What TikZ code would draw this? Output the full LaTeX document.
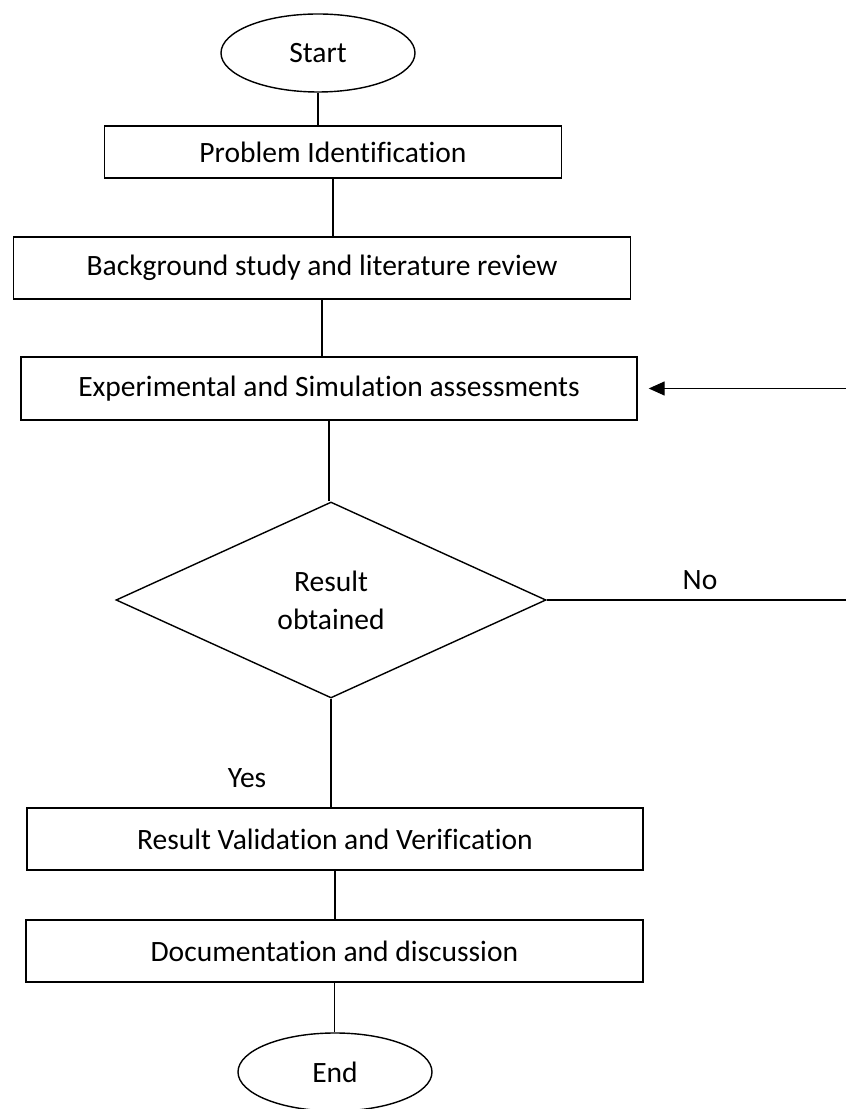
\documentclass[tikz,border=0pt]{standalone}
\usepackage{fontspec}
\setmainfont{Carlito}[Ligatures=NoCommon]
\usetikzlibrary{shapes.geometric,arrows.meta}
\begin{document}
\begin{tikzpicture}[
		line width=1pt,
		box/.style={draw, rectangle, minimum width=15.4cm, minimum height=1.55cm, font=\fontsize{21}{25}\selectfont},
		term/.style={draw, ellipse, minimum width=4.85cm, minimum height=1.95cm, font=\fontsize{21}{25}\selectfont},
		decision/.style={draw, diamond, minimum width=10.75cm, minimum height=4.9cm, inner sep=0pt, align=center, font=\fontsize{21}{27}\selectfont},
		note/.style={font=\fontsize{21}{25}\selectfont}]
		
		\clip (0,0) rectangle (21.15,27.725);
		
		\node[term] (start) at (7.95,26.4) {Start};
		\node[box, minimum width=11.425cm, minimum height=1.3cm] (prob) at (8.325,23.925) {Problem Identification};
		\node[box, minimum width=15.425cm] (back) at (8.05,21.025) {Background study and literature review};
		\node[box, minimum height=1.575cm] (exper) at (8.225,18.0125) {Experimental and Simulation assessments};
		\node[decision] (result) at (8.275,12.725) {Result\\obtained};
		\node[box] (valid) at (8.375,6.75) {Result Validation and Verification};
		\node[box, minimum width=15.425cm] (docu) at (8.36,3.95) {Documentation and discussion};
		\node[term] (end) at (8.375,0.925) {End};
		
		\node[note] (yes) at (6.175,8.275) {Yes};
		\node[note] (no) at (17.5,13.225) {No};
		\coordinate (loop) at (21.5,12.725);
		
		\draw (start.south) -- (start.south |- prob.north);
		\draw (prob.south) -- (prob.south |- back.north);
		\draw (back.south) -- (back.south |- exper.north);
		\draw (exper.south) -- (exper.south |- result.north);
		\draw (result.south) -- (result.south |- valid.north);
		\draw (valid.south) -- (valid.south |- docu.north);
		\draw (docu.south) -- (docu.south |- end.north);
		
		\draw[-{Triangle[length=0.4cm,width=0.35cm]}, shorten >=0.275cm] (result.east) -- (loop) |- (exper.east);
\end{tikzpicture}
\end{document}
